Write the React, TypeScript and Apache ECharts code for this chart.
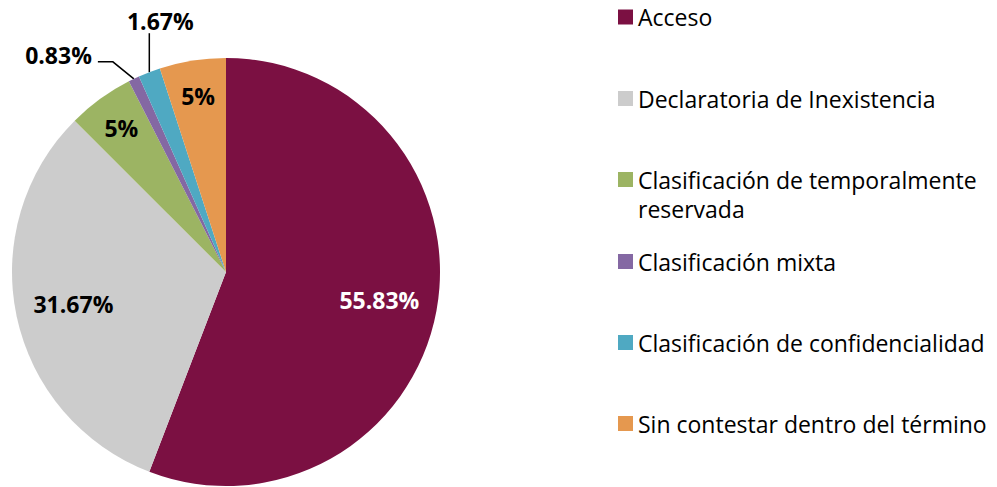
import React, { useEffect, useRef } from "react";
import * as echarts from "echarts";

const categories = [
  "Acceso",
  "Declaratoria de Inexistencia",
  "Clasificación de temporalmente reservada",
  "Clasificación mixta",
  "Clasificación de confidencialidad",
  "Sin contestar dentro del término",
];
const legendTexts = [
  "Acceso",
  "Declaratoria de Inexistencia",
  "\u00a0\nClasificación de temporalmente\nreservada",
  "Clasificación mixta",
  "Clasificación de confidencialidad",
  "Sin contestar dentro del término",
];
const counts = [67, 38, 6, 1, 2, 6];
const colors = ["#7B1042", "#CCCCCC", "#9CB463", "#8468A3", "#4FA9C2", "#E5984F"];

const FONT = "'Open Sans', 'Noto Sans', sans-serif";

export default function App() {
  const ref = useRef<HTMLDivElement>(null);
  useEffect(() => {
    if (!ref.current) return;
    const chart = echarts.init(ref.current, undefined, { renderer: "svg" });
    const center = [226, 272];
    const R = 214;

    const markerCenters = [17, 98.5, 179.5, 261.5, 342.5, 423.5];
    const LH = 29;

    const legends = categories.map((name, i) => {
      const lines = legendTexts[i].split("\n").length;
      return {
        data: [{ name, itemStyle: { color: colors[i] } }],
        orient: "vertical",
        left: 618,
        top: markerCenters[i] - (LH * lines) / 2,
        icon: "rect",
        itemWidth: 15,
        itemHeight: 15,
        padding: 0,
        selectedMode: false,
        formatter: () => legendTexts[i],
        textStyle: {
          fontFamily: FONT,
          fontSize: 23,
          color: "#000",
          lineHeight: LH,
        },
      };
    });

    const baseData = (show: (i: number) => boolean) =>
      categories.map((name, i) => ({
        name,
        value: counts[i],
        label: { show: show(i) },
      }));

    const labelText = {
      fontFamily: FONT,
      fontSize: 23,
      fontWeight: "bold",
      formatter: "{d}%",
    };

    chart.setOption({
      animation: false,
      legend: legends,
      series: [
        {
          type: "pie",
          center,
          radius: R,
          startAngle: 90,
          clockwise: true,
          avoidLabelOverlap: false,
          silent: true,
          data: categories.map((name, i) => ({
            name,
            value: counts[i],
            itemStyle: { color: colors[i] },
            label: { show: i === 3 || i === 4 },
            labelLine: { show: i === 3 || i === 4 },
          })),
          label: {
            position: "outside",
            color: "#000",
            ...labelText,
          },
          labelLine: {
            length: 10,
            length2: 10,
            lineStyle: { color: "#000", width: 1.5 },
          },
          labelLayout: (p: any) => {
            const pts = p.labelLinePoints;
            if (!pts || !pts[0]) return {};
            const ex = pts[0][0];
            const ey = pts[0][1];
            if (p.dataIndex === 3) {
              return {
                x: ex - 42,
                y: ey - 24,
                align: "right",
                verticalAlign: "middle",
                labelLinePoints: [
                  [ex, ey],
                  [ex - 21, ey - 17],
                  [ex - 36, ey - 17],
                ],
              };
            }
            if (p.dataIndex === 4) {
              return {
                x: ex + 11,
                y: ey - 51,
                align: "center",
                verticalAlign: "middle",
                labelLinePoints: [
                  [ex, ey],
                  [ex, ey - 39],
                ],
              };
            }
            return {};
          },
        },
        {
          type: "pie",
          center,
          radius: [106, 200],
          startAngle: 90,
          clockwise: true,
          avoidLabelOverlap: false,
          silent: true,
          itemStyle: { color: "rgba(0,0,0,0)" },
          data: baseData((i) => i === 0 || i === 1).map((d, i) => ({
            ...d,
            label: { show: i === 0 || i === 1, color: i === 0 ? "#FFFFFF" : "#000000" },
          })),
          label: { position: "inside", ...labelText },
          labelLine: { show: false },
        },
        {
          type: "pie",
          center,
          radius: [150, 200],
          startAngle: 90,
          clockwise: true,
          avoidLabelOverlap: false,
          silent: true,
          itemStyle: { color: "rgba(0,0,0,0)" },
          data: baseData((i) => i === 2 || i === 5),
          label: { position: "inside", color: "#000", ...labelText },
          labelLine: { show: false },
        },
      ],
    });
    return () => chart.dispose();
  }, []);
  return (
    <div
      ref={ref}
      style={{ position: "fixed", left: 0, top: 0, width: 997, height: 487, background: "#fff" }}
    />
  );
}
